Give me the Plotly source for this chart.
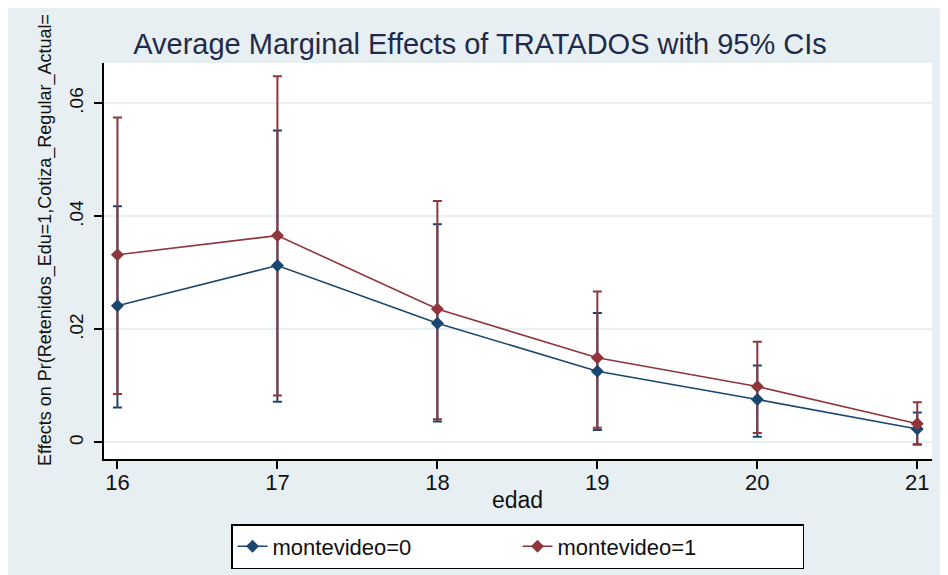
import plotly.graph_objects as go

# ---- data ----
edad = [16, 17, 18, 19, 20, 21]
tick_vals_y = [0, 0.02, 0.04, 0.06]
tick_text_y = ["0", ".02", ".04", ".06"]

m0 = [0.0242, 0.0313, 0.0211, 0.0126, 0.0076, 0.0024]
m0_lo = [0.0062, 0.0072, 0.0037, 0.0022, 0.0010, -0.0003]
m0_hi = [0.0418, 0.0552, 0.0386, 0.0229, 0.0136, 0.0053]

m1 = [0.0332, 0.0366, 0.0236, 0.0150, 0.0099, 0.0033]
m1_lo = [0.0086, 0.0083, 0.0041, 0.0026, 0.0017, -0.0004]
m1_hi = [0.0575, 0.0648, 0.0427, 0.0267, 0.0178, 0.0071]

series = [
    ("montevideo=0", m0, m0_lo, m0_hi, "#1a476f"),
    ("montevideo=1", m1, m1_lo, m1_hi, "#90353b"),
]

FONT = "Liberation Sans, Arial, sans-serif"
BG = "#e8eff2"
W, H = 948, 575
L, R, T, B = 96, 24, 55, 124
pw, ph = W - L - R, H - T - B

def px_x(p):
    return (p - L) / pw

def px_y(p):
    return (H - B - p) / ph

fig = go.Figure()

# confidence intervals first (drawn beneath the lines)
for name, est, lo, hi, col in series:
    fig.add_trace(go.Scatter(
        x=edad, y=est, mode="markers",
        marker=dict(size=1, color="rgba(0,0,0,0)"),
        error_y=dict(type="data", symmetric=False,
                     array=[h - e for h, e in zip(hi, est)],
                     arrayminus=[e - l for e, l in zip(est, lo)],
                     color=col, thickness=2, width=4.5),
        showlegend=False, hoverinfo="skip"))

for name, est, lo, hi, col in series:
    fig.add_trace(go.Scatter(
        x=edad, y=est, mode="lines+markers", name=name,
        line=dict(color=col, width=1.6),
        marker=dict(symbol="diamond", size=10, color=col)))

fig.update_layout(
    width=W, height=H,
    margin=dict(l=L, r=R, t=T, b=B, autoexpand=False),
    paper_bgcolor=BG,
    plot_bgcolor="white",
    font=dict(family=FONT, color="#111111"),
    title=dict(text="Average Marginal Effects of TRATADOS with 95% CIs",
               x=472 / W, xanchor="center", y=1 - 36 / H, yanchor="middle",
               font=dict(size=29, color="#1e2b4c", family=FONT)),
    xaxis=dict(range=[15.916, 21.092], tickvals=edad,
               ticks="outside", ticklen=8, tickwidth=2, tickcolor="black",
               showline=True, linecolor="black", linewidth=2,
               showgrid=False, zeroline=False, ticklabelstandoff=-5,
               tickfont=dict(size=22, family=FONT, color="#111111")),
    yaxis=dict(range=[-0.00292, 0.06713], tickvals=tick_vals_y,
               ticktext=tick_text_y, tickangle=-90,
               ticks="outside", ticklen=8, tickwidth=2, tickcolor="black",
               showline=True, linecolor="black", linewidth=2,
               showgrid=True, gridcolor="#e9f0f3", gridwidth=2,
               zeroline=False, ticklabelstandoff=3,
               tickfont=dict(size=19, family=FONT, color="#111111")),
    legend=dict(orientation="h", x=px_x(509.5), xanchor="center",
                y=px_y(516), yanchor="top",
                bgcolor="white", bordercolor="black", borderwidth=1.5,
                font=dict(size=22, family=FONT, color="#111111"),
                entrywidth=240),
    annotations=[
        dict(text="Effects on Pr(Retenidos_Edu=1,Cotiza_Regular_Actual=",
             textangle=-90, xref="paper", yref="paper",
             x=px_x(37), y=px_y(460), xanchor="center", yanchor="bottom",
             showarrow=False,
             font=dict(size=18, family=FONT, color="#111111")),
        dict(text="edad", xref="paper", yref="paper",
             x=px_x(509), y=px_y(492), xanchor="center", yanchor="middle",
             showarrow=False,
             font=dict(size=23, family=FONT, color="#111111")),
    ],
)

fig.write_html("out.html")
